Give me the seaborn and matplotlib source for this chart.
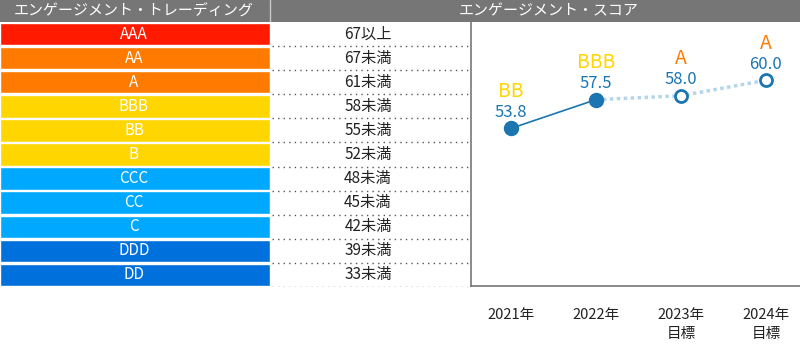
import numpy as np
import pandas as pd
import matplotlib
matplotlib.use('Agg')
import matplotlib.pyplot as plt
import seaborn as sns

sns.set_style('white')
plt.rcParams['font.family'] = ['Noto Sans CJK JP', 'DejaVu Sans']

# grading table
grades = ['AAA', 'AA', 'A', 'BBB', 'BB', 'B', 'CCC', 'CC', 'C', 'DDD', 'DD']
thresholds = ['67以上', '67未満', '61未満', '58未満', '55未満', '52未満',
              '48未満', '45未満', '42未満', '39未満', '33未満']
grade_colors = ['#ff1a00', '#ff7a00', '#ff7a00', '#ffd600', '#ffd600', '#ffd600',
                '#00a8ff', '#00a8ff', '#00a8ff', '#0070dc', '#0070dc']

# score series
years = ['2021年', '2022年', '2023年\n目標', '2024年\n目標']
scores = [53.8, 57.5, 58.0, 60.0]
score_grades = ['BB', 'BBB', 'A', 'A']
is_target = [False, False, True, True]

W, H = 800, 362
fig = plt.figure(figsize=(W / 100, H / 100), dpi=100)

def px_axes(x, y, w, h):
    return fig.add_axes([x / W, 1 - (y + h) / H, w / W, h / H])

# header bar
hdr = px_axes(0, 0, W, 22)
hdr.set_xlim(0, W)
hdr.set_ylim(0, 1)
hdr.axis('off')
hdr.add_patch(plt.Rectangle((0, 0), W, 1, color='#767676'))
hdr.axvline(270, color='#c8c8c8', lw=1)
hdr.text(134, 0.5, 'エンゲージメント・トレーディング', color='white', fontsize=10.8,
         ha='center', va='center')
hdr.text(549, 0.5, 'エンゲージメント・スコア', color='white', fontsize=10.8,
         ha='center', va='center')

# table with colored bars
tab = px_axes(0, 22, 471, 265)
df_tab = pd.DataFrame({'grade': grades, 'len': [270] * len(grades)})
sns.barplot(data=df_tab, x='len', y='grade', hue='grade', palette=grade_colors,
            orient='h', width=0.93, legend=False, ax=tab, saturation=1)
tab.set_xlim(0, 471)
tab.set_ylim(len(grades) - 0.5, -0.5)
for i, (g, t) in enumerate(zip(grades, thresholds)):
    tab.text(134, i, g, color='white', fontsize=11, ha='center', va='center')
    tab.text(368, i, t, color='#222222', fontsize=11, ha='center', va='center')
    tab.hlines(i + 0.5, 272, 471, colors='#555555', linestyles=(0, (1, 3)), lw=1)
tab.axis('off')

# score line chart
ax = px_axes(471, 22, 329, 264)
df = pd.DataFrame({'x': range(len(years)), 'score': scores, 'target': is_target})
actual = df[~df['target']]
plan = df.iloc[1:]
sns.lineplot(data=plan, x='x', y='score', ax=ax, color='#b3d6ec', lw=2.5,
             linestyle=(0, (1, 1)))
sns.lineplot(data=actual, x='x', y='score', ax=ax, color='#1a75b0', lw=1.2)
sns.scatterplot(data=actual, x='x', y='score', ax=ax, color='#1a75b0', s=105,
                edgecolor='#1a75b0', zorder=5)
sns.scatterplot(data=df[df['target']], x='x', y='score', ax=ax, color='white', s=75,
                edgecolor='#1a75b0', linewidth=2, zorder=5)

col_of = dict(zip(grades, grade_colors))
for xi, (s, g) in enumerate(zip(scores, score_grades)):
    ax.annotate(f'{s:.1f}', (xi, s), xytext=(0, 16), textcoords='offset pixels',
                ha='center', va='center', fontsize=12, color='#1a75b0')
    ax.annotate(g, (xi, s), xytext=(0, 37), textcoords='offset pixels',
                ha='center', va='center', fontsize=14, color=col_of[g])

ax.set_xlim(-0.47, 3.4)
ax.set_ylim(33.5, 67.5)
ax.set_xticks(range(len(years)))
ax.set_xticklabels(years, fontsize=10.5, color='#222222', va='top', linespacing=1.4)
ax.tick_params(axis='x', length=0, pad=16)
ax.set_yticks([])
ax.set_xlabel('')
ax.set_ylabel('')
for side in ['top', 'right']:
    ax.spines[side].set_visible(False)
for side in ['left', 'bottom']:
    ax.spines[side].set_color('#777777')
    ax.spines[side].set_linewidth(1.2)

fig.savefig('out.png', dpi=100)
